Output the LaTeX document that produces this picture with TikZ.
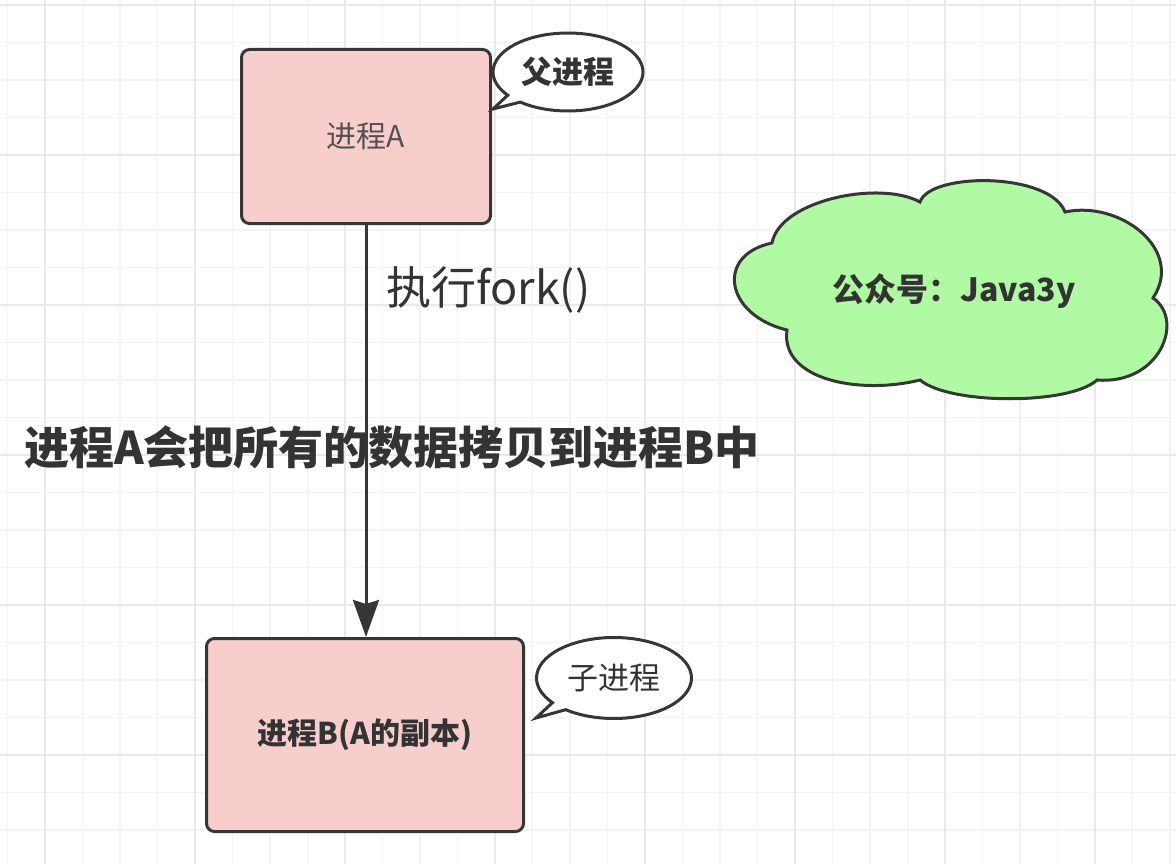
\documentclass[tikz,border=0pt]{standalone}
\usepackage{fontspec}
\setmainfont{Noto Sans CJK SC}
\usetikzlibrary{arrows.meta,shapes.callouts}

\definecolor{linecol}{HTML}{363636}
\definecolor{textcol}{HTML}{333333}
\definecolor{boxfill}{HTML}{F8CECC}
\definecolor{cloudfill}{HTML}{B1FAA4}
\definecolor{gridminor}{HTML}{F3F3F3}
\definecolor{gridmajor}{HTML}{E9E9E9}

\tikzset{
  procbox/.style={draw=linecol, fill=boxfill, line width=3pt, rounded corners=8pt,
    text=textcol, font=\fontsize{30}{36}\selectfont},
  bubble/.style={ellipse callout, draw=linecol, fill=white, line width=3pt,
    callout pointer arc=14, minimum width=150pt, minimum height=78pt,
    text=textcol, font=\fontsize{31}{37}\selectfont},
  flow/.style={draw=linecol, line width=3pt, -{Stealth[length=37pt,width=26pt,inset=4pt]}},
  biglbl/.style={text=textcol, font=\fontsize{45}{54}\selectfont, inner sep=0pt},
}

\begin{document}
\begin{tikzpicture}[x=1pt, y=-1pt]
\useasboundingbox (0,0) rectangle (1176,864);
\fill[white] (0,0) rectangle (1176,864);

% Grid
\foreach \gx in {0,...,31}
  \draw[gridminor, line width=1.5pt] ({7.5+37.5*\gx},0) -- ++(0,864);
\foreach \gy in {0,...,22}
  \draw[gridminor, line width=1.5pt] (0,{5+37.5*\gy}) -- ++(1176,0);
\foreach \gx in {0,...,7}
  \draw[gridmajor, line width=2pt] ({45+150*\gx},0) -- ++(0,864);
\foreach \gy in {0,...,5}
  \draw[gridmajor, line width=2pt] (0,{5+150*\gy}) -- ++(1176,0);

% Processes
\node[procbox, minimum width=249pt, minimum height=174pt, text=textcol!85] (procA) at (366,136.5) {进程A};
\node[procbox, minimum width=317pt, minimum height=193pt] (procB) at (365,735) {\bfseries 进程B(A的副本)};

% Fork arrow
\draw[flow] (procA.south) -- (procA.south |- procB.north);

% Labels
\node[biglbl, anchor=west] (forklbl) at (386,290) {执行fork()};
\node[biglbl, font=\fontsize{45}{54}\selectfont\bfseries] (copylbl) at (392,447) {进程A会把所有的数据拷贝到进程B中};

% Callouts
\node[bubble, font=\fontsize{31}{37}\selectfont\bfseries, callout absolute pointer={(493,109)}] (parentlbl) at (568,72) {父进程};
\node[bubble, minimum width=155pt, minimum height=81pt, callout absolute pointer={(536,718)}] (childlbl) at (614,678) {子进程};

% Cloud
\filldraw[draw=linecol, fill=cloudfill, line width=3pt]
  (772,243) .. controls (780,200) and (880,180) .. (920,202)
  .. controls (930,172) and (1050,172) .. (1065,212)
  .. controls (1120,200) and (1185,250) .. (1153,298)
  .. controls (1185,320) and (1160,385) .. (1097,380)
  .. controls (1070,405) and (950,405) .. (920,380)
  .. controls (860,395) and (780,380) .. (787,330)
  .. controls (725,315) and (715,255) .. cycle;
\node[text=textcol, font=\fontsize{32}{38}\selectfont\bfseries] (wechat) at (954,291) {公众号：Java3y};
\end{tikzpicture}
\end{document}
